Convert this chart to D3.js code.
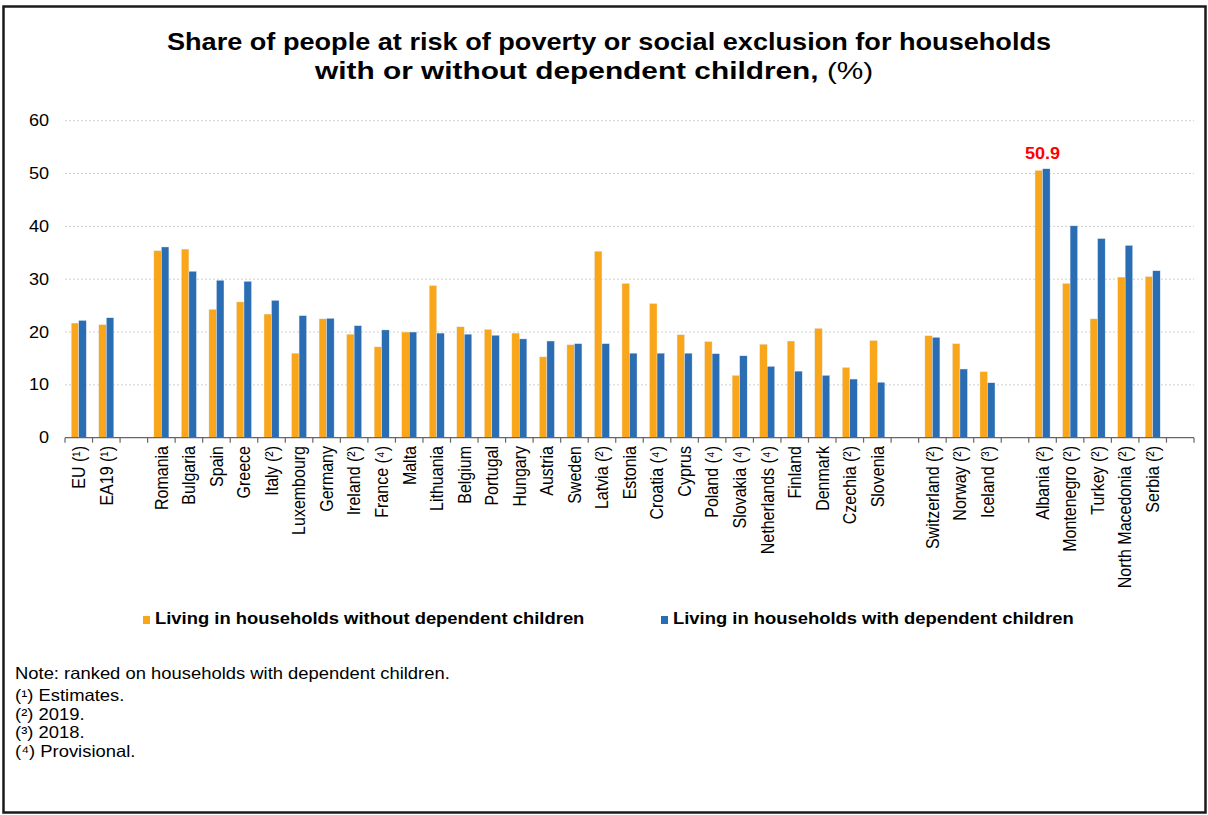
<!DOCTYPE html>
<html>
<head>
<meta charset="utf-8">
<script src="https://cdn.jsdelivr.net/npm/d3@7"></script>
<style>
  body { margin: 0; background: #fff; }
  text { font-family: "Liberation Sans", Arial, sans-serif; fill: #000; }
</style>
</head>
<body>
<div id="graph-container"></div>
<script>
// Countries in plotting order; "" marks an empty slot between groups
var countries = ["EU (¹)", "EA19 (¹)", "",
  "Romania", "Bulgaria", "Spain", "Greece", "Italy (²)", "Luxembourg", "Germany",
  "Ireland (²)", "France (⁴)", "Malta", "Lithuania", "Belgium", "Portugal", "Hungary",
  "Austria", "Sweden", "Latvia (²)", "Estonia", "Croatia (⁴)", "Cyprus", "Poland (⁴)",
  "Slovakia (⁴)", "Netherlands (⁴)", "Finland", "Denmark", "Czechia (²)", "Slovenia", "",
  "Switzerland (²)", "Norway (²)", "Iceland (³)", "",
  "Albania (²)", "Montenegro (²)", "Turkey (²)", "North Macedonia (²)", "Serbia (²)", ""];

// Living in households without dependent children (%)
var withoutChildren = [21.7, 21.4, null,
  35.4, 35.7, 24.3, 25.7, 23.4, 16.0, 22.5, 19.6, 17.2, 20.0,
  28.8, 21.0, 20.5, 19.8, 15.3, 17.6, 35.3, 29.2, 25.4, 19.5,
  18.2, 11.8, 17.7, 18.3, 20.7, 13.3, 18.4, null,
  19.3, 17.8, 12.5, null,
  50.6, 29.2, 22.5, 30.4, 30.5, null];

// Living in households with dependent children (%)
var withChildren = [22.2, 22.7, null,
  36.1, 31.5, 29.8, 29.6, 26.0, 23.1, 22.6, 21.2, 20.4, 20.0,
  19.8, 19.6, 19.4, 18.7, 18.3, 17.8, 17.8, 16.0, 16.0, 16.0,
  15.9, 15.5, 13.5, 12.6, 11.8, 11.1, 10.5, null,
  19.0, 13.0, 10.4, null,
  50.9, 40.1, 37.7, 36.4, 31.6, null];

var seriesNames = ["Living in households without dependent children",
                   "Living in households with dependent children"];
var yTicks = [0, 10, 20, 30, 40, 50, 60];
var highlightIndex = 35;  // Albania, labelled value
var notes = ["Note: ranked on households with dependent children.",
  "(¹) Estimates.", "(²) 2019.", "(³) 2018.", "(⁴) Provisional."];

var svgWidth = 1208, svgHeight = 815;
var colors = ["#F9A61B", "#2A6DB2"];
var SX = 1.13; // the source picture is slightly wider than tall

var svg = d3.select("#graph-container")
  .append("svg")
  .attr("width", svgWidth)
  .attr("height", svgHeight);

svg.append("rect")
  .attr("width", svgWidth).attr("height", svgHeight)
  .attr("fill", "#fff");

// outer frame
svg.append("rect")
  .attr("x", 3.5).attr("y", 6.5)
  .attr("width", 1202).attr("height", 806)
  .attr("fill", "none")
  .attr("stroke", "#1a1a1a")
  .attr("stroke-width", 2.5);

// helper for horizontally stretched text
function label(x, y, anchor, sx) {
  return svg.append("g")
    .attr("transform", "translate(" + x + "," + y + ") scale(" + (sx || SX) + ",1)")
    .append("text")
    .attr("text-anchor", anchor);
}

// Title
label(609, 50, "middle")
  .style("font-size", "24px").style("font-weight", "bold")
  .text("Share of people at risk of poverty or social exclusion for households");
var t2 = label(315, 79, "start", SX * 1.1).style("font-size", "24px");
t2.append("tspan").style("font-weight", "bold").text("with or without dependent children, ");
t2.append("tspan").text("(%)");

// Scales
var xScale = d3.scaleBand()
  .domain(d3.range(countries.length))
  .range([65, 1194]);

var xInner = d3.scaleBand()
  .domain([0, 1])
  .range([0, xScale.bandwidth()])
  .paddingOuter(0.83);

var yScale = d3.scaleLinear()
  .domain([0, 60])
  .range([437.7, 120.7]);

// Gridlines
svg.append("g")
  .selectAll("line")
  .data(yTicks.filter(function (d) { return d > 0; }))
  .join("line")
  .attr("x1", 65).attr("x2", 1194)
  .attr("y1", function (d) { return yScale(d); })
  .attr("y2", function (d) { return yScale(d); })
  .attr("stroke", "#cfcfcf")
  .attr("stroke-dasharray", "2,2");

// Y axis labels
var yAxis = svg.append("g")
  .attr("transform", "translate(65,0)")
  .call(d3.axisLeft(yScale).tickValues(yTicks).tickSize(0).tickPadding(0));
yAxis.select(".domain").remove();
yAxis.selectAll("text")
  .attr("x", null)
  .attr("transform", "translate(-16,0) scale(" + SX + ",1)")
  .style("font-family", "Liberation Sans, Arial, sans-serif")
  .style("font-size", "16px")
  .attr("fill", "#222");

// Bars
var series = [withoutChildren, withChildren];
series.forEach(function (values, s) {
  svg.append("g")
    .selectAll("rect")
    .data(values.map(function (v, i) { return { i: i, v: v }; })
      .filter(function (d) { return d.v !== null; }))
    .join("rect")
    .attr("x", function (d) { return xScale(d.i) + xInner(s); })
    .attr("y", function (d) { return yScale(d.v); })
    .attr("width", xInner.bandwidth())
    .attr("height", function (d) { return yScale(0) - yScale(d.v); })
    .attr("fill", colors[s])
    .attr("stroke", "#e8eef7")
    .attr("stroke-width", 0.4);
});

// X axis line and boundary ticks
var xAxis = svg.append("g");
xAxis.append("line")
  .attr("x1", 65).attr("x2", 1194)
  .attr("y1", yScale(0)).attr("y2", yScale(0))
  .attr("stroke", "#666").attr("stroke-width", 1.2);
xAxis.selectAll("line.tick")
  .data(d3.range(countries.length + 1))
  .join("line")
  .attr("class", "tick")
  .attr("x1", function (d) { return xScale.range()[0] + d * xScale.step(); })
  .attr("x2", function (d) { return xScale.range()[0] + d * xScale.step(); })
  .attr("y1", yScale(0)).attr("y2", yScale(0) + 5)
  .attr("stroke", "#666").attr("stroke-width", 1.2);

// Country labels, rotated
svg.append("g")
  .selectAll("text")
  .data(countries.map(function (c, i) { return { c: c, i: i }; })
    .filter(function (d) { return d.c !== ""; }))
  .join("text")
  .attr("transform", function (d) {
    return "translate(" + (xScale(d.i) + xScale.bandwidth() / 2) + ",446) scale(" + SX + ",1) rotate(-90)";
  })
  .attr("text-anchor", "end")
  .attr("dy", "0.35em")
  .style("font-size", "16px")
  .attr("fill", "#222")
  .text(function (d) { return d.c; });

// Highlight value
label(xScale(highlightIndex) + xScale.bandwidth() / 2, yScale(withChildren[highlightIndex]) - 10, "middle")
  .style("font-size", "16px").style("font-weight", "bold")
  .style("fill", "#ff0000")
  .text(withChildren[highlightIndex].toFixed(1));

// Legend
var legendX = [143, 661];
seriesNames.forEach(function (name, s) {
  svg.append("rect")
    .attr("x", legendX[s]).attr("y", 616)
    .attr("width", 7).attr("height", 8)
    .attr("fill", colors[s]);
  label(legendX[s] + 12, 624, "start")
    .style("font-size", "16.3px").style("font-weight", "bold")
    .text(name);
});

// Notes
notes.forEach(function (n, i) {
  label(15, 679 + (i === 0 ? 0 : 22 + (i - 1) * 18.7), "start")
    .style("font-size", "16.3px")
    .attr("fill", "#111")
    .text(n);
});
</script>
</body>
</html>
